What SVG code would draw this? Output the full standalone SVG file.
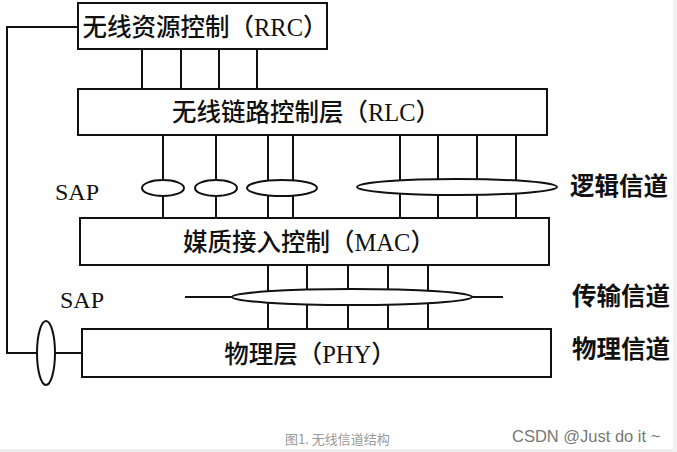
<svg xmlns="http://www.w3.org/2000/svg" width="677" height="452" viewBox="0 0 677 452">
<style>
.box{fill:#fff;stroke:#111;stroke-width:2}
.ln{fill:none;stroke:#111;stroke-width:2}
.sap{fill:#fff;stroke:#111;stroke-width:2}
.t{font-family:"Liberation Serif","Noto Sans CJK SC",serif;font-size:24.5px;font-weight:500;fill:#111}
.s{font-family:"Liberation Serif",serif;font-size:24px;fill:#111}
.lab{font-family:"Liberation Serif","Noto Sans CJK SC",serif;font-size:24.5px;font-weight:bold;fill:#111}
.cap{font-family:"Noto Sans CJK SC","Liberation Sans",sans-serif;font-size:13px;fill:#999}
.wm{font-family:"Liberation Sans","Noto Sans CJK SC",sans-serif;font-size:16.5px;fill:#777}
</style>
<rect x="0" y="0" width="677" height="452" fill="#fff"/>
<rect x="0" y="449" width="677" height="3" fill="#eee"/>
<rect x="673" y="0" width="4" height="452" fill="#f0f0f0"/>
<g id="connectors">
  <polyline class="ln" points="78,27 7,27 7,353 82,353"/>
  <g id="rrc-rlc">
    <line class="ln" x1="142" y1="49" x2="142" y2="89"/>
    <line class="ln" x1="181" y1="49" x2="181" y2="89"/>
    <line class="ln" x1="219" y1="49" x2="219" y2="89"/>
    <line class="ln" x1="257" y1="49" x2="257" y2="89"/>
  </g>
  <g id="rlc-mac">
    <line class="ln" x1="163" y1="135" x2="163" y2="218"/>
    <line class="ln" x1="216" y1="135" x2="216" y2="218"/>
    <line class="ln" x1="268" y1="135" x2="268" y2="218"/>
    <line class="ln" x1="293" y1="135" x2="293" y2="218"/>
    <line class="ln" x1="400" y1="135" x2="400" y2="218"/>
    <line class="ln" x1="438" y1="135" x2="438" y2="218"/>
    <line class="ln" x1="477" y1="135" x2="477" y2="218"/>
    <line class="ln" x1="516" y1="135" x2="516" y2="218"/>
  </g>
  <g id="mac-phy">
    <line class="ln" x1="185" y1="297" x2="503" y2="297"/>
    <line class="ln" x1="268" y1="265" x2="268" y2="329"/>
    <line class="ln" x1="307" y1="265" x2="307" y2="329"/>
    <line class="ln" x1="348" y1="265" x2="348" y2="329"/>
    <line class="ln" x1="388" y1="265" x2="388" y2="329"/>
    <line class="ln" x1="428" y1="265" x2="428" y2="329"/>
  </g>
  <g id="saps">
    <ellipse class="sap" cx="163" cy="188" rx="21" ry="8"/>
    <ellipse class="sap" cx="216" cy="188" rx="21" ry="8"/>
    <ellipse class="sap" cx="282" cy="188" rx="35" ry="8"/>
    <ellipse class="sap" cx="457" cy="187" rx="100" ry="8"/>
    <ellipse class="sap" cx="352" cy="297" rx="120" ry="8"/>
    <ellipse class="sap" cx="46" cy="353" rx="9" ry="32"/>
  </g>
</g>
<g id="rrc">
  <rect class="box" x="78" y="3" width="249" height="46"/>
  <text class="t" x="205" y="36" text-anchor="middle">无线资源控制（RRC）</text>
</g>
<g id="rlc">
  <rect class="box" x="78" y="89" width="469" height="46"/>
  <text class="t" x="306" y="121" text-anchor="middle">无线链路控制层（RLC）</text>
</g>
<g id="mac">
  <rect class="box" x="80" y="218" width="469" height="47"/>
  <text class="t" x="309" y="251" text-anchor="middle">媒质接入控制（MAC）</text>
</g>
<g id="phy">
  <rect class="box" x="82" y="329" width="469" height="48"/>
  <text class="t" x="310" y="363" text-anchor="middle">物理层（PHY）</text>
</g>
<g id="labels">
  <text class="s" x="55" y="200">SAP</text>
  <text class="s" x="60" y="308">SAP</text>
  <text class="lab" x="570" y="195">逻辑信道</text>
  <text class="lab" x="572" y="305">传输信道</text>
  <text class="lab" x="572" y="358">物理信道</text>
  <text class="cap" x="285" y="444">图1. 无线信道结构</text>
  <text class="wm" x="512" y="442">CSDN @Just do it ~</text>
</g>
</svg>
